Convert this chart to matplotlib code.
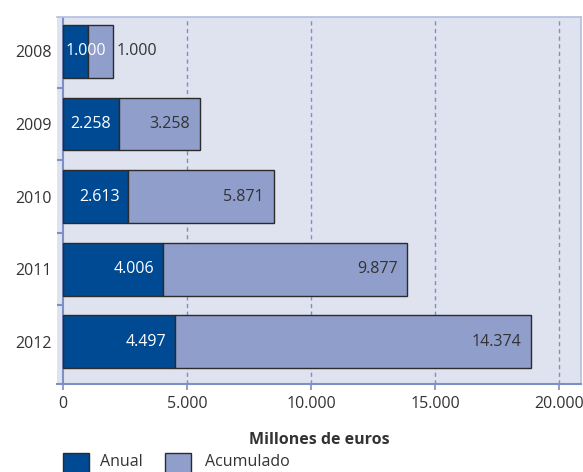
import matplotlib
matplotlib.use('Agg')
import matplotlib.pyplot as plt
import matplotlib.patches as patches
import matplotlib.transforms as mtransforms
import numpy as np

# Investment per year and running total, millions of euros
years = ['2008', '2009', '2010', '2011', '2012']
anual = [1000, 2258, 2613, 4006, 4497]
acumulado = [1000, 3258, 5871, 9877, 14374]
x_ticks = [0, 5000, 10000, 15000, 20000]

DARK = '#004a93'
LIGHT = '#8f9ecb'
BG = '#dfe3ef'
GRID = '#7d8fc6'
TEXT = '#333333'

plt.rcParams['font.family'] = ['Open Sans', 'DejaVu Sans']
plt.rcParams['font.size'] = 11.5

def fmt(v):
    return '{:,}'.format(v).replace(',', '.')

W, H = 583, 472
fig = plt.figure(figsize=(W / 100, H / 100), dpi=100)
ax = fig.add_axes([57 / W, 88.4 / H, (581 - 57) / W, (455 - 88.4) / H])
ax.set_facecolor(BG)

pos = np.arange(len(years))
bar_h = 0.725
ax.barh(pos, anual, height=bar_h, color=DARK, edgecolor='#2b2b2b', linewidth=1, zorder=3)
ax.barh(pos, acumulado, left=anual, height=bar_h, color=LIGHT, edgecolor='#2b2b2b',
        linewidth=1, zorder=3)

for i, (a, c) in enumerate(zip(anual, acumulado)):
    if a < 1500:
        ax.annotate(fmt(a), (0, i), xytext=(1.5, 0), textcoords='offset points',
                    ha='left', va='center', color='white', zorder=4)
        ax.annotate(fmt(c), (a + c, i), xytext=(3, 0), textcoords='offset points',
                    ha='left', va='center', color=TEXT, zorder=4)
    else:
        ax.annotate(fmt(a), (a, i), xytext=(-6, 0), textcoords='offset points',
                    ha='right', va='center', color='white', zorder=4)
        ax.annotate(fmt(c), (a + c, i), xytext=(-7, 0), textcoords='offset points',
                    ha='right', va='center', color=TEXT, zorder=4)

scale = (559 - 63.3) / 20000
ax.set_xlim(-(63.3 - 57) / scale, 20000 + (581 - 559) / scale)
ax.set_ylim(4.576, -0.474)

# dashed vertical grid
for t in x_ticks[1:]:
    ax.axvline(t, color=GRID, linestyle=(0, (3, 2.5)), linewidth=1, zorder=1)
ax.axvline(0, color=GRID, linewidth=1.5, zorder=2)

for side in ['top', 'right']:
    ax.spines[side].set_color('#b3bedf')
    ax.spines[side].set_linewidth(1.2)
ax.spines['left'].set_visible(False)
ax.spines['bottom'].set_color(GRID)
ax.spines['bottom'].set_linewidth(1.5)

ax.set_xticks(x_ticks)
ax.set_xticklabels([fmt(t) for t in x_ticks])
ax.tick_params(axis='x', direction='out', length=4, width=1.2, color=GRID,
               pad=5, labelcolor=TEXT)

ax.set_yticks(pos)
ax.set_yticklabels(years)
ax.set_yticks(pos[:-1] + 0.5, minor=True)
ax.tick_params(axis='y', which='major', length=0, pad=3.5, labelcolor=TEXT)
ax.tick_params(axis='y', which='minor', direction='out', length=4, width=1.5, color=GRID)
# minor ticks hang off the y axis at x=0, not at the frame edge
shift = mtransforms.ScaledTranslation(6.3 / 100, 0, fig.dpi_scale_trans)
for tk in ax.yaxis.get_minor_ticks():
    tk.tick1line.set_transform(ax.get_yaxis_transform(which='tick1') + shift)

fig.text(319 / W, (H - 439.5) / H, 'Millones de euros', ha='center', va='center',
         fontweight='bold', color=TEXT)

# legend swatches along the bottom edge
for x0, col, label, tx in [(63, DARK, 'Anual', 100), (165, LIGHT, 'Acumulado', 205)]:
    fig.patches.append(patches.Rectangle((x0 / W, (H - 479) / H), 26 / W, 26 / H,
                                         transform=fig.transFigure, facecolor=col,
                                         edgecolor='#2b2b2b', linewidth=1))
    fig.text(tx / W, (H - 462) / H, label, ha='left', va='center', color=TEXT)

fig.savefig('out.png', dpi=100, facecolor='white')
